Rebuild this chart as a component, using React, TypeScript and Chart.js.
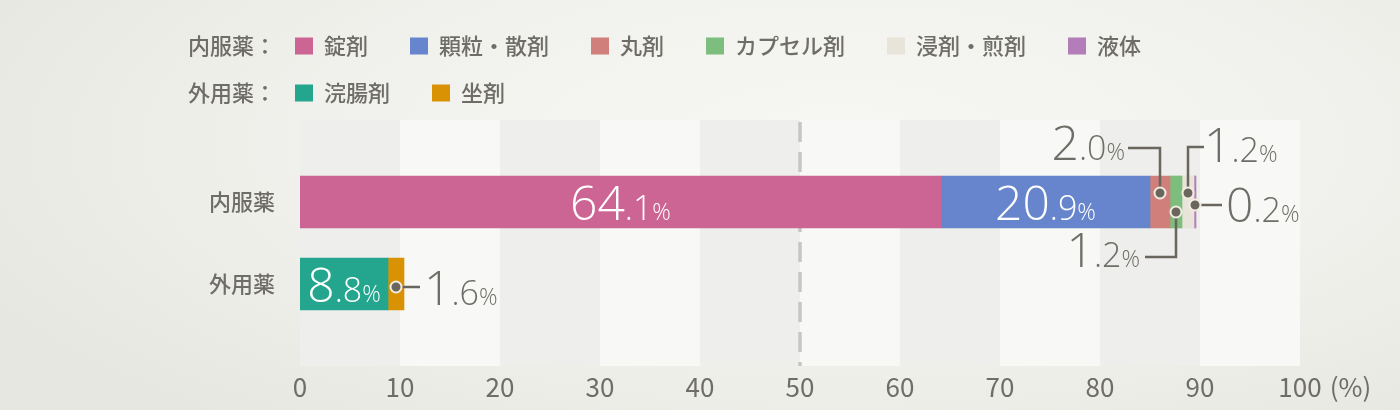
import { useEffect, useRef } from 'react'
import Chart from 'chart.js/auto'

// categories on the y axis
const categories = ['内服薬', '外用薬']
// legend group titles
const groupTitles = ['内服薬：', '外用薬：']

// series (order = stack order)
const internalNames = ['錠剤', '顆粒・散剤', '丸剤', 'カプセル剤', '浸剤・煎剤', '液体']
const internalValues = [64.1, 20.9, 2.0, 1.2, 1.2, 0.2]
const internalColors = ['#cc6594', '#6685cc', '#d07f7a', '#7dbd7d', '#e8e4d9', '#b27db8']

const externalNames = ['浣腸剤', '坐剤']
const externalValues = [8.8, 1.6]
const externalColors = ['#24a68e', '#d99204']

const xTickValues = [0, 10, 20, 30, 40, 50, 60, 70, 80, 90, 100]

const TEXT = '#6f6d67'
const LEADER = '#6a665d'
const NUM_FONT = '"Open Sans", "Noto Sans", sans-serif'
const JP_FONT = '"Noto Sans CJK JP", sans-serif'

// how each segment gets its value label
type LabelSpec =
  | { kind: 'inside' }
  | { kind: 'elbow'; dotDy: number; lineDy: number; dx: number; textGap: number; baseDy: number }
  | { kind: 'straight'; dotDy: number; dx: number; textGap: number; baseDy: number }

const internalLabels: LabelSpec[] = [
  { kind: 'inside' },
  { kind: 'inside' },
  { kind: 'elbow', dotDy: -9, lineDy: -54, dx: -32, textGap: 3, baseDy: 12 },
  { kind: 'elbow', dotDy: 10, lineDy: 55, dx: -31, textGap: 5, baseDy: 10 },
  { kind: 'elbow', dotDy: -9, lineDy: -55, dx: 16, textGap: 0, baseDy: 15 },
  { kind: 'straight', dotDy: 3, dx: 27, textGap: 4, baseDy: 17 },
]
const externalLabels: LabelSpec[] = [
  { kind: 'inside' },
  { kind: 'straight', dotDy: 3, dx: 24, textGap: 4, baseDy: 18 },
]

function drawValue(
  ctx: CanvasRenderingContext2D,
  value: number,
  x: number,
  y: number,
  align: 'left' | 'right' | 'center',
  color: string,
) {
  const [intPart, decPart] = value.toFixed(1).split('.')
  const parts = [
    { t: intPart, f: `300 48px ${NUM_FONT}` },
    { t: '.' + decPart, f: `300 34px ${NUM_FONT}` },
    { t: '%', f: `300 23px ${NUM_FONT}` },
  ]
  ctx.save()
  ctx.textBaseline = 'alphabetic'
  ctx.textAlign = 'left'
  const widths = parts.map((p) => {
    ctx.font = p.f
    return ctx.measureText(p.t).width
  })
  const total = widths.reduce((a, b) => a + b, 0)
  let cx = align === 'left' ? x : align === 'right' ? x - total : x - total / 2
  ctx.fillStyle = color
  parts.forEach((p, i) => {
    ctx.font = p.f
    ctx.fillText(p.t, cx, y)
    cx += widths[i]
  })
  ctx.restore()
}

const allNames = [...internalNames, ...externalNames]
const allColors = [...internalColors, ...externalColors]

export default function App() {
  const ref = useRef<HTMLCanvasElement>(null)

  useEffect(() => {
    if (!ref.current) return

    const paddedLabels = ['', ...categories, '']

    const datasets = [
      ...internalValues.map((v, i) => ({
        label: internalNames[i],
        data: [null, v, null, null],
        backgroundColor: internalColors[i],
        spec: internalLabels[i],
        cat: 1,
      })),
      ...externalValues.map((v, i) => ({
        label: externalNames[i],
        data: [null, null, v, null],
        backgroundColor: externalColors[i],
        spec: externalLabels[i],
        cat: 2,
      })),
    ]

    const bandsPlugin = {
      id: 'bands',
      beforeDatasetsDraw(chart: any) {
        const { ctx, chartArea } = chart
        const xs = chart.scales.x
        ctx.save()
        for (let k = 0; k < xTickValues.length - 1; k++) {
          const x0 = xs.getPixelForValue(xTickValues[k])
          const x1 = xs.getPixelForValue(xTickValues[k + 1])
          ctx.fillStyle = k % 2 === 0 ? '#eeeeec' : '#f8f8f6'
          ctx.fillRect(x0, chartArea.top, x1 - x0, chartArea.bottom - chartArea.top)
        }
        const x50 = Math.round(xs.getPixelForValue(50))
        ctx.strokeStyle = '#c6c6c4'
        ctx.lineWidth = 3.5
        ctx.setLineDash([20, 10])
        ctx.beginPath()
        ctx.moveTo(x50, chartArea.top + 2)
        ctx.lineTo(x50, chartArea.bottom)
        ctx.stroke()
        ctx.restore()
      },
    }

    const labelsPlugin = {
      id: 'valueLabels',
      afterDatasetsDraw(chart: any) {
        const { ctx } = chart
        chart.data.datasets.forEach((ds: any, di: number) => {
          const el = chart.getDatasetMeta(di).data[ds.cat]
          if (!el) return
          const value = ds.data[ds.cat]
          const cx = (el.x + el.base) / 2
          const cy = el.y
          const spec: LabelSpec = ds.spec
          if (spec.kind === 'inside') {
            drawValue(ctx, value, cx, cy + 18, 'center', '#ffffff')
            return
          }
          const dotY = cy + spec.dotDy
          const lineY = spec.kind === 'elbow' ? cy + spec.lineDy : dotY
          const endX = cx + spec.dx
          ctx.save()
          ctx.strokeStyle = LEADER
          ctx.lineWidth = 2.5
          ctx.beginPath()
          ctx.moveTo(cx, dotY)
          if (spec.kind === 'elbow') ctx.lineTo(cx, lineY)
          ctx.lineTo(endX, lineY)
          ctx.stroke()
          ctx.beginPath()
          ctx.arc(cx, dotY, 5.5, 0, Math.PI * 2)
          ctx.fillStyle = LEADER
          ctx.fill()
          ctx.lineWidth = 2
          ctx.strokeStyle = '#f1ede2'
          ctx.stroke()
          ctx.restore()
          const toLeft = spec.dx < 0
          drawValue(
            ctx,
            value,
            toLeft ? endX - spec.textGap : endX + spec.textGap,
            lineY + spec.baseDy,
            toLeft ? 'right' : 'left',
            TEXT,
          )
        })
      },
      afterDraw(chart: any) {
        const { ctx } = chart
        const xs = chart.scales.x
        // "(%)" after the last tick
        ctx.save()
        ctx.font = `26px ${JP_FONT}`
        ctx.fillStyle = TEXT
        ctx.textBaseline = 'middle'
        ctx.textAlign = 'left'
        const w100 = ctx.measureText('100').width
        ctx.fillText('(%)', xs.getPixelForValue(100) + w100 / 2 + 8, 387)

        // legend
        const groups = [
          { title: groupTitles[0], idx: internalNames.map((_, i) => i), y: 46 },
          { title: groupTitles[1], idx: externalNames.map((_, i) => internalNames.length + i), y: 93 },
        ]
        ctx.font = `500 22px ${JP_FONT}`
        groups.forEach((g) => {
          ctx.fillStyle = TEXT
          ctx.fillText(g.title, 188, g.y)
          let x = 295
          g.idx.forEach((i) => {
            ctx.fillStyle = allColors[i]
            ctx.fillRect(x, g.y - 8.5, 18, 17)
            ctx.fillStyle = TEXT
            ctx.fillText(allNames[i], x + 29, g.y)
            x += 29 + ctx.measureText(allNames[i]).width + 42
          })
        })
        ctx.restore()
      },
    }

    const chart = new Chart(ref.current, {
      type: 'bar',
      data: { labels: paddedLabels, datasets: datasets as any },
      plugins: [bandsPlugin, labelsPlugin],
      options: {
        indexAxis: 'y',
        responsive: false,
        animation: false,
        devicePixelRatio: 1,
        layout: { padding: { top: 120, right: 100, left: 0, bottom: 0 } },
        datasets: { bar: { barThickness: 52 } },
        plugins: { legend: { display: false }, tooltip: { enabled: false } },
        scales: {
          x: {
            type: 'linear',
            min: 0,
            max: 100,
            stacked: true,
            grid: { display: false, drawTicks: false },
            border: { display: false },
            ticks: {
              stepSize: 10,
              color: TEXT,
              font: { family: JP_FONT, size: 26 },
              padding: 6,
            },
            afterFit: (s: any) => {
              s.height = 44
            },
          },
          y: {
            type: 'category',
            stacked: true,
            offset: false,
            grid: { display: false, drawTicks: false },
            border: { display: false },
            ticks: {
              autoSkip: false,
              color: TEXT,
              font: { family: JP_FONT, size: 22, weight: '500' },
              padding: 25,
            },
            afterFit: (s: any) => {
              s.width = 300
            },
          },
        },
      },
    })

    return () => chart.destroy()
  }, [])

  return (
    <div
      style={{
        position: 'fixed',
        left: 0,
        top: 0,
        width: 1400,
        height: 410,
        background:
          'radial-gradient(ellipse 70% 90% at 60% 35%, #f7f7f4 0%, #f0f0ec 55%, #e7e7e1 100%)',
      }}
    >
      <canvas ref={ref} width={1400} height={410} />
    </div>
  )
}
